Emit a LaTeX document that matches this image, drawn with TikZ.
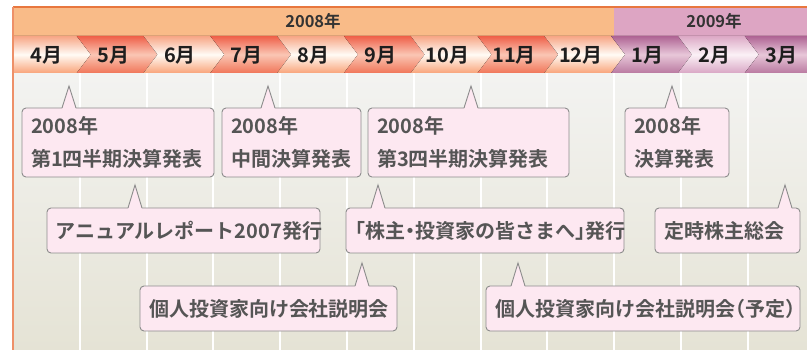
\documentclass[tikz,border=0pt]{standalone}
\usepackage{fontspec}
\setmainfont{Noto Sans CJK JP}[RawFeature=+halt, BoldFont={* Bold}]
\usetikzlibrary{calc}
\definecolor{yearorange}{HTML}{F9BB88}
\definecolor{yearpink}{HTML}{DDA5C3}
\definecolor{frameorange}{HTML}{EE9068}
\definecolor{topline}{HTML}{E8773E}
\definecolor{bgtop}{HTML}{F3F3F1}
\definecolor{bgbot}{HTML}{E5E3D5}
\definecolor{cLt}{HTML}{F7A585}
\definecolor{cLm}{HTML}{FFFBF5}
\definecolor{cLb}{HTML}{F9A47A}
\definecolor{cDt}{HTML}{EF5F48}
\definecolor{cDm}{HTML}{FAC6B4}
\definecolor{cDb}{HTML}{F17659}
\definecolor{cPDt}{HTML}{AE6393}
\definecolor{cPDm}{HTML}{E8C7D9}
\definecolor{cPDb}{HTML}{BA7AA1}
\definecolor{cPLt}{HTML}{DCA8C5}
\definecolor{cPLm}{HTML}{FBF1F6}
\definecolor{cPLb}{HTML}{D9A7C5}
\definecolor{callfill}{HTML}{FDE8F1}
\definecolor{callline}{HTML}{8C8C8C}
\definecolor{calltext}{HTML}{555555}
\definecolor{monthtext}{HTML}{1E1E1E}
\definecolor{yeartext}{HTML}{333333}
\newcommand\callout[8]{%
  \node[callbox, anchor=north west, minimum width=#4-#2, minimum height=#5-#3,
        text width=#4-#2-18] (#1) at (#2,#3) {#8};
  \coordinate (#1t) at (#6,#7);
  \fill[callfill] ($(#1t |- #1.north)+(-7,1.2)$) -- (#1t) -- ($(#1t |- #1.north)+(7,1.2)$) -- cycle;
  \draw[callline, line width=0.9pt, line join=miter] ($(#1t |- #1.north)+(-7,0)$) -- (#1t) -- ($(#1t |- #1.north)+(7,0)$);
}
\begin{document}
\begin{tikzpicture}[x=1pt,y=-1pt,
  chevL/.style={top color=cLt, bottom color=cLb, middle color=cLm},
  chevD/.style={top color=cDt, bottom color=cDb, middle color=cDm},
  chevPL/.style={top color=cPLt, bottom color=cPLb, middle color=cPLm},
  chevPD/.style={top color=cPDt, bottom color=cPDb, middle color=cPDm},
  monthlabel/.style={font=\fontsize{20}{22}\selectfont\bfseries, text=monthtext, inner sep=0pt},
  yearlabel/.style={font=\fontsize{16.5}{18}\selectfont\bfseries, text=yeartext, inner sep=0pt},
  callbox/.style={draw=callline, line width=0.9pt, fill=callfill, rounded corners=4pt,
    inner xsep=9pt, inner ysep=0pt, outer sep=0pt, text=calltext,
    font=\fontsize{20}{33}\selectfont\bfseries},
  gridline/.style={white, line width=2pt}]
\useasboundingbox (0,0) rectangle (807,350);
\clip (0,0) rectangle (807,350);
% background
\fill[top color=bgtop, bottom color=bgbot] (13,73) rectangle (807,350);
\foreach \k in {1,...,11} \draw[gridline] (13+66.8*\k,73) -- (13+66.8*\k,350);
% year band
\fill[yearorange] (13,7) rectangle (614.2,36);
\fill[yearpink] (614.2,7) rectangle (807,36);
\draw[topline, line width=1.2pt] (13,7) -- (807,7);
\node[yearlabel] (y2008) at (313,21.5) {2008年};
\node[yearlabel] (y2009) at (714,21.5) {2009年};
% month chevrons
\foreach \k/\lab/\sty in {0/4月/chevL, 1/5月/chevD, 2/6月/chevL, 3/7月/chevD, 4/8月/chevL,
   5/9月/chevD, 6/10月/chevL, 7/11月/chevD, 8/12月/chevL, 9/1月/chevPD, 10/2月/chevPL, 11/3月/chevPD}{
  \pgfmathsetmacro\L{13+66.8*\k}
  \pgfmathsetmacro\R{\L+66.8}
  \ifnum\k=0
    \fill[\sty] (13,36) -- (\R-3,36) -- (\R+11,54.5) -- (\R-3,73) -- (13,73) -- cycle;
  \else
    \fill[\sty] (\L-3,36) -- (\R-3,36) -- (\R+11,54.5) -- (\R-3,73) -- (\L-3,73) -- (\L+11,54.5) -- cycle;
  \fi
  \node[monthlabel] (m\k) at (\L+33.4,55) {\lab};
}
% left border
\draw[frameorange, line width=2pt] (13,7) -- (13,350);
% callouts
\callout{c1}{22}{108}{214}{177}{69}{86}{\raggedright 2008年\\第1四半期決算発表}
\callout{c2}{222}{108}{361}{177}{268}{86}{\raggedright 2008年\\中間決算発表}
\callout{c3}{368}{108}{569}{177}{471}{86}{\raggedright 2008年\\第3四半期決算発表}
\callout{c4}{625}{108}{729}{177}{672}{86}{\raggedright 2008年\\決算発表}
\callout{c5}{47}{208}{320}{253}{135}{185}{\centering アニュアルレポート2007発行}
\callout{c6}{346}{208}{624}{253}{378}{185}{\centering 「株主・投資家の皆さまへ」発行}
\callout{c7}{655}{208}{800}{253}{785}{185}{\centering 定時株主総会}
\callout{c8}{140}{286}{397}{331}{362}{263}{\centering 個人投資家向け会社説明会}
\callout{c9}{486}{286}{800}{331}{518}{263}{\centering 個人投資家向け会社説明会（予定）}
\end{tikzpicture}
\end{document}
